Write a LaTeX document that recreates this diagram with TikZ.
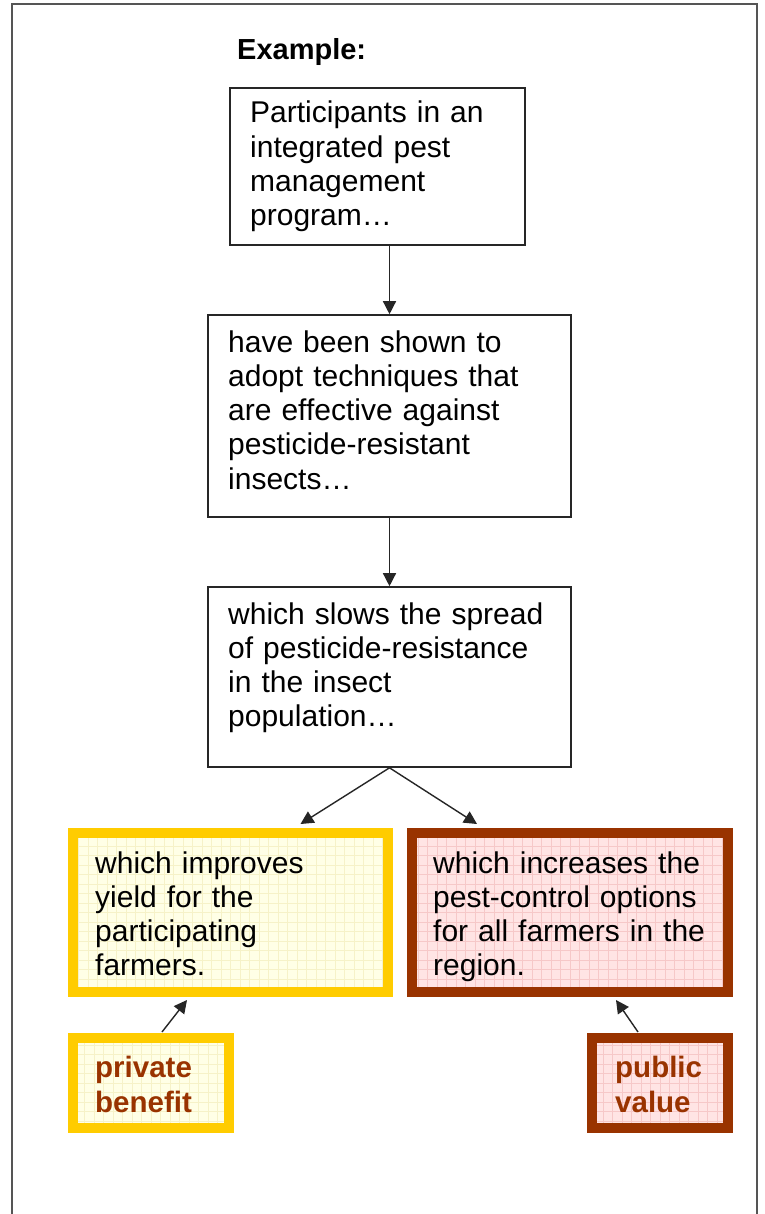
\documentclass[tikz,border=0pt]{standalone}
\usepackage{fontspec}
\setmainfont{Liberation Sans}
\usetikzlibrary{arrows.meta}
\definecolor{ybord}{HTML}{FFCC00}
\definecolor{yfill}{HTML}{FFFFE6}
\definecolor{ygrid}{HTML}{F6F2C8}
\definecolor{rbord}{HTML}{993300}
\definecolor{rfill}{HTML}{FFE4E4}
\definecolor{rgrid}{HTML}{F6C8C8}
\definecolor{frame}{HTML}{555555}
\begin{document}
\begin{tikzpicture}[x=1pt,y=-1pt,
  plainbox/.style={draw=black!85, line width=1.6pt, inner sep=0pt},
  ybox/.style={draw=ybord, line width=10pt, fill=yfill, inner sep=0pt,
    path picture={\draw[ygrid, line width=0.7pt, step=9.5pt] (path picture bounding box.south west) grid (path picture bounding box.north east);}},
  rbox/.style={draw=rbord, line width=10pt, fill=rfill, inner sep=0pt,
    path picture={\draw[rgrid, line width=0.7pt, step=9.5pt] (path picture bounding box.south west) grid (path picture bounding box.north east);}},
  txt/.style={inner sep=0pt, anchor=base west, text width=320pt, align=left,
    font=\fontsize{30}{34.3}\selectfont},
  lbl/.style={inner sep=0pt, anchor=base west, text width=140pt, align=left,
    font=\fontsize{29.5}{35}\selectfont\bfseries, text=rbord},
  arr/.style={draw=black!85, line width=1.4pt, -{Triangle[length=13pt,width=13pt]}}
]
\useasboundingbox (0,0) rectangle (764,1214);
\fill[white] (0,0) rectangle (764,1214);
\draw[frame, line width=1.8pt] (12,1216) -- (12,4) -- (757,4) -- (757,1216);

\node[inner sep=0pt, anchor=base west, font=\fontsize{29}{34}\selectfont\bfseries] (ex) at (237,60) {Example:};

\node[plainbox, minimum width=295pt, minimum height=157pt] (b1) at (377.5,166.5) {};
\node[plainbox, minimum width=363pt, minimum height=202pt] (b2) at (389.5,416) {};
\node[plainbox, minimum width=363pt, minimum height=180pt] (b3) at (389.5,677) {};
\node[ybox, minimum width=315pt, minimum height=159pt] (yb) at (230.5,912.5) {};
\node[rbox, minimum width=316pt, minimum height=159pt] (rb) at (570,912.5) {};
\node[ybox, minimum width=156pt, minimum height=90pt] (pb) at (151,1083) {};
\node[rbox, minimum width=136pt, minimum height=90pt] (vb) at (660,1083) {};

\node[txt] (t1) at (250,123) {Participants in an\\integrated pest\\management\\program…};
\node[txt] (t2) at (228,352) {have been shown to\\adopt techniques that\\are effective against\\pesticide-resistant\\insects…};
\node[txt] (t3) at (228,624) {which slows the spread\\of pesticide-resistance\\in the insect\\population…};
\node[txt] (t4) at (95,873) {which improves\\yield for the\\participating\\farmers.};
\node[txt] (t5) at (433,873) {which increases the\\pest-control options\\for all farmers in the\\region.};
\node[lbl] (t6) at (95,1077) {private\\benefit};
\node[lbl] (t7) at (615,1077) {public\\value};

\draw[arr] (b2.north |- b1.south) -- (b2.north);
\draw[arr] (b2.south) -- (b3.north);
\draw[arr] (b3.south) -- ([xshift=70pt,yshift=4pt]yb.north);
\draw[arr] (b3.south) -- ([xshift=-93pt,yshift=4pt]rb.north);
\draw[arr] ([xshift=11pt,yshift=1pt]pb.north) -- ([xshift=-43.5pt,yshift=-3pt]yb.south);
\draw[arr] ([xshift=-22pt,yshift=1pt]vb.north) -- ([xshift=46pt,yshift=-3pt]rb.south);
\end{tikzpicture}
\end{document}
